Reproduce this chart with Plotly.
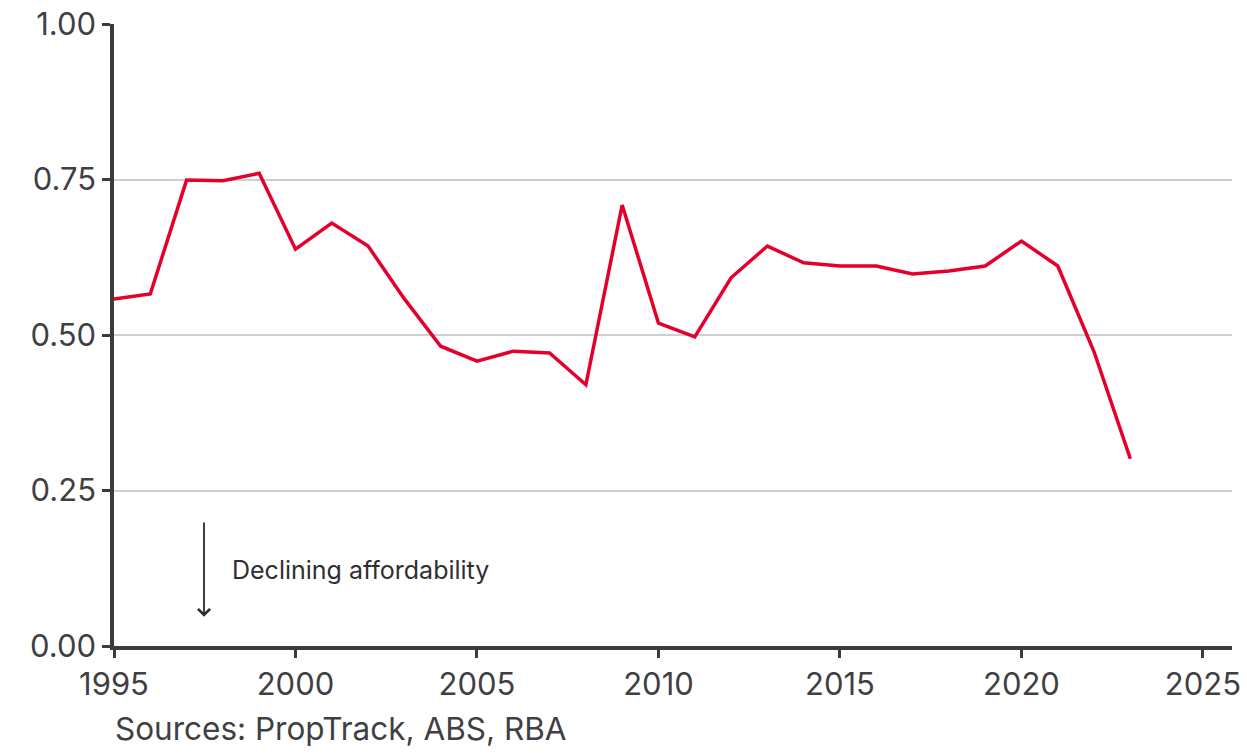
import plotly.graph_objects as go

# Annual housing affordability index
years = list(range(1995, 2024))
index_values = [
    0.558, 0.566, 0.749, 0.748, 0.760, 0.638, 0.680, 0.643, 0.558, 0.482,
    0.458, 0.474, 0.471, 0.420, 0.709, 0.519, 0.497, 0.592, 0.643, 0.616,
    0.611, 0.611, 0.598, 0.603, 0.611, 0.651, 0.611, 0.473, 0.301,
]
x_ticks = [1995, 2000, 2005, 2010, 2015, 2020, 2025]
y_ticks = [0.0, 0.25, 0.5, 0.75, 1.0]
y_tick_labels = ["0.00", "0.25", "0.50", "0.75", "1.00"]

FONT = "Inter, Lato, sans-serif"
TEXT = "#3f3f44"
AXIS = "#3b3b40"

fig = go.Figure()
fig.add_trace(go.Scatter(
    x=years, y=index_values, mode="lines",
    line=dict(color="#e4002b", width=3.5),
    showlegend=False, hoverinfo="skip",
))

fig.update_xaxes(
    range=[1995, 2025.8], tickvals=x_ticks, automargin=False,
    showline=True, linecolor=AXIS, linewidth=3.5,
    ticks="outside", ticklen=8, tickwidth=3, tickcolor=AXIS,
    showgrid=False, zeroline=False,
    tickfont=dict(family=FONT, size=31, color=TEXT),
)
fig.update_yaxes(
    range=[0, 1], tickvals=y_ticks, ticktext=y_tick_labels, automargin=False,
    showline=True, linecolor=AXIS, linewidth=3.5,
    ticks="outside", ticklen=8, tickwidth=3, tickcolor=AXIS,
    showgrid=True, gridcolor="#cfcfcf", gridwidth=1.5,
    zeroline=False,
    tickfont=dict(family=FONT, size=31, color=TEXT),
)

# Direction note with a downward arrow
fig.add_annotation(
    x=1997.48, y=0.047, ax=1997.48, ay=0.201,
    xref="x", yref="y", axref="x", ayref="y",
    text="", showarrow=True, arrowhead=4, arrowsize=1.3,
    arrowwidth=1.8, arrowcolor="#2b2b2b",
)
fig.add_annotation(
    x=1998.2, y=0.122, xref="x", yref="y",
    text="Declining affordability", showarrow=False,
    xanchor="left", yanchor="middle",
    font=dict(family=FONT, size=25, color="#2f2f33"),
)
fig.add_annotation(
    x=-0.001, y=-0.132, xref="paper", yref="paper",
    text="Sources: PropTrack, ABS, RBA", showarrow=False,
    xanchor="left", yanchor="middle",
    font=dict(family=FONT, size=31.5, color=TEXT),
)

fig.update_layout(
    width=1247, height=754,
    margin=dict(l=114, r=15, t=24, b=108, autoexpand=False),
    paper_bgcolor="white", plot_bgcolor="white",
)

fig.write_html("out.html")
